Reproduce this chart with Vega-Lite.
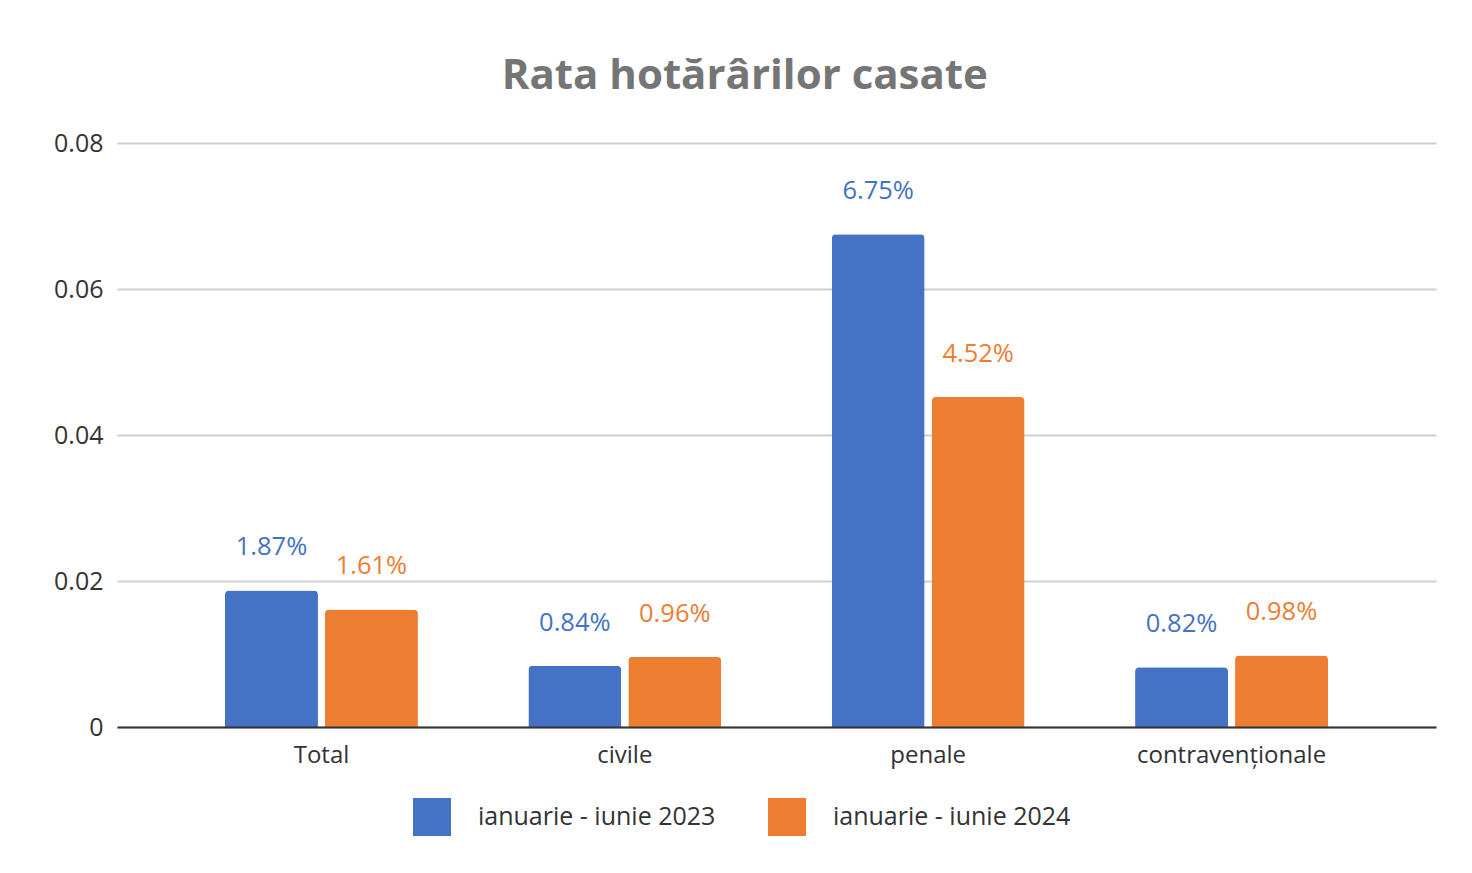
{
  "$schema": "https://vega.github.io/schema/vega-lite/v6.json",
  "autosize": "none",
  "width": 1319,
  "height": 584,
  "padding": {"left": 117, "top": 143, "right": 36, "bottom": 146},
  "background": "white",
  "title": {
    "text": "Rata hotărârilor casate",
    "frame": "bounds",
    "anchor": "middle",
    "font": "Open Sans",
    "fontSize": 42,
    "fontWeight": "bold",
    "color": "#757575",
    "offset": 33
  },
  "data": {
    "values": [
      {"categorie": "Total", "perioada": "ianuarie - iunie 2023", "rata": 0.0187},
      {"categorie": "Total", "perioada": "ianuarie - iunie 2024", "rata": 0.0161},
      {"categorie": "civile", "perioada": "ianuarie - iunie 2023", "rata": 0.0084},
      {"categorie": "civile", "perioada": "ianuarie - iunie 2024", "rata": 0.0096},
      {"categorie": "penale", "perioada": "ianuarie - iunie 2023", "rata": 0.0675},
      {"categorie": "penale", "perioada": "ianuarie - iunie 2024", "rata": 0.0452},
      {"categorie": "contravenționale", "perioada": "ianuarie - iunie 2023", "rata": 0.0082},
      {"categorie": "contravenționale", "perioada": "ianuarie - iunie 2024", "rata": 0.0098}
    ]
  },
  "encoding": {
    "x": {
      "field": "categorie",
      "type": "nominal",
      "sort": null,
      "scale": {"paddingInner": 0.364, "paddingOuter": 0.356},
      "axis": {
        "title": null,
        "labelAngle": 0,
        "ticks": false,
        "labelPadding": 16,
        "labelFont": "Open Sans",
        "labelFontSize": 24,
        "labelColor": "#333333",
        "labelLimit": 400,
        "domainColor": "#333333",
        "domainWidth": 2,
        "zindex": 1
      }
    },
    "xOffset": {
      "field": "perioada",
      "type": "nominal",
      "scale": {"paddingInner": 0.07}
    },
    "y": {
      "field": "rata",
      "type": "quantitative",
      "scale": {"domain": [0, 0.08], "nice": false},
      "axis": {
        "title": null,
        "values": [0, 0.02, 0.04, 0.06, 0.08],
        "format": "~g",
        "domain": false,
        "ticks": false,
        "labelPadding": 14,
        "labelFont": "Open Sans",
        "labelFontSize": 25,
        "labelColor": "#333333",
        "gridColor": "#d0d0d0",
        "gridWidth": 2
      }
    },
    "color": {
      "field": "perioada",
      "type": "nominal",
      "scale": {"range": ["#4472c4", "#ed7d31"]},
      "legend": {
        "title": null,
        "orient": "none",
        "legendX": 296,
        "legendY": 655,
        "direction": "horizontal",
        "symbolType": "square",
        "symbolSize": 1444,
        "symbolStrokeWidth": 0,
        "symbolOpacity": 1,
        "labelFont": "Open Sans",
        "labelFontSize": 25,
        "labelColor": "#333333",
        "labelLimit": 400,
        "labelOffset": 27,
        "columnPadding": 52
      }
    }
  },
  "layer": [
    {
      "mark": {"type": "bar", "cornerRadiusTopLeft": 4, "cornerRadiusTopRight": 4}
    },
    {
      "mark": {"type": "text", "baseline": "middle", "dy": -43, "font": "Open Sans", "fontSize": 25.5},
      "encoding": {
        "text": {"field": "rata", "type": "quantitative", "format": ".2%"}
      }
    }
  ],
  "config": {
    "view": {"stroke": null}
  }
}
